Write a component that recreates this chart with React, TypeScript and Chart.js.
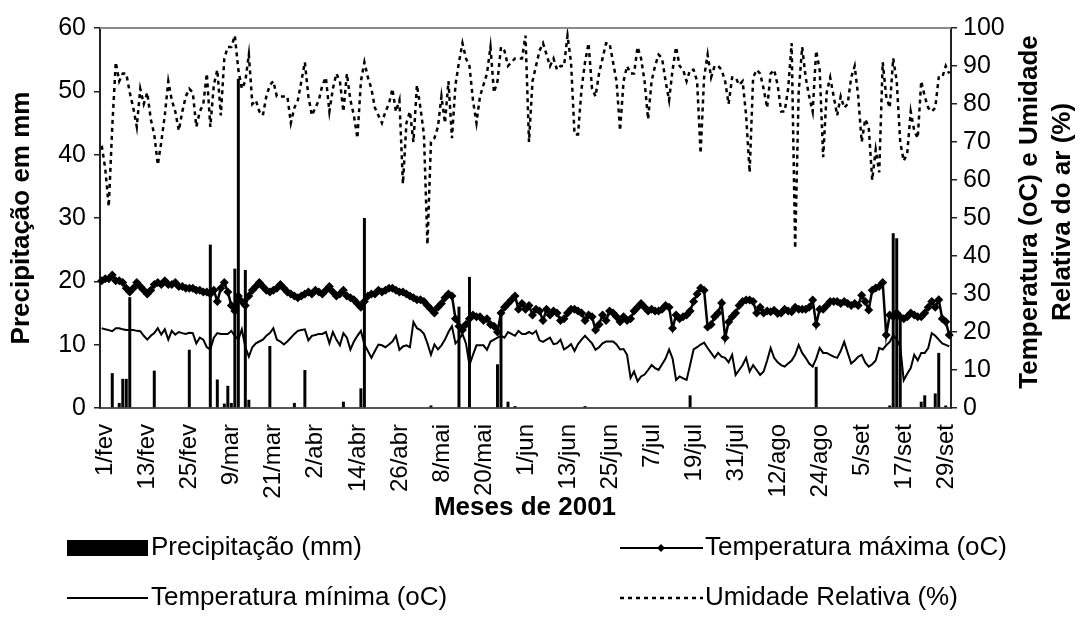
import React, { useEffect, useRef } from 'react';
import { Chart, registerables } from 'chart.js';

Chart.register(...registerables);

const FONT = '"Liberation Sans", Arial, Helvetica, sans-serif';

// Daily categories: 1/fev .. 1/out (2001)
const MONTHS = ['fev', 'mar', 'abr', 'mai', 'jun', 'jul', 'ago', 'set', 'out'];
const MONTH_DAYS = [28, 31, 30, 31, 30, 31, 31, 30, 1];
const CATEGORIES: string[] = [];
MONTHS.forEach((m, k) => {
  for (let d = 1; d <= MONTH_DAYS[k]; d++) CATEGORIES.push(`${d}/${m}`);
});

const TICK_LABELS = [
  '1/fev', '13/fev', '25/fev', '9/mar', '21/mar', '2/abr', '14/abr', '26/abr', '8/mai', '20/mai',
  '1/jun', '13/jun', '25/jun', '7/jul', '19/jul', '31/jul', '12/ago', '24/ago', '5/set', '17/set', '29/set',
];
const TICK_STEP = 12;

// Precipitação (mm) - left axis
const PRECIP = [
  0, 0, 0, 5.5, 0, 0.8, 4.6, 4.6, 17.5, 0,
  0, 0, 0, 0, 0, 5.9, 0, 0, 0, 0,
  0, 0, 0, 0, 0, 9.2, 0, 0, 0, 0,
  0, 25.8, 0, 4.5, 0, 0.7, 3.5, 0.8, 22, 52,
  0, 21.8, 1.3, 0, 0, 0, 0, 0, 9.8, 0,
  0, 0, 0, 0, 0, 0.8, 0, 0, 6, 0,
  0, 0, 0, 0, 0, 0, 0, 0, 0, 1,
  0, 0, 0, 0, 3.1, 30, 0, 0, 0, 0,
  0, 0, 0, 0, 0, 0, 0, 0, 0, 0,
  0, 0, 0, 0, 0.4, 0, 0, 0, 0, 0,
  0, 0, 16, 0, 0, 20.7, 0, 0, 0, 0,
  0, 0, 0, 6.9, 15.2, 0, 1, 0, 0.3, 0,
  0, 0, 0, 0, 0, 0, 0, 0, 0, 0,
  0, 0, 0, 0, 0, 0, 0, 0, 0.3, 0,
  0, 0, 0, 0, 0, 0, 0, 0, 0, 0,
  0, 0, 0, 0, 0, 0, 0, 0, 0, 0,
  0, 0, 0, 0, 0, 0, 0, 0, 2, 0,
  0, 0, 0, 0, 0, 0, 0, 0, 0, 0,
  0, 0, 0, 0, 0, 0, 0, 0, 0, 0,
  0, 0, 0, 0, 0, 0, 0, 0, 0, 0,
  0, 0, 0, 0, 6.5, 0, 0, 0, 0, 0,
  0, 0, 0, 0, 0, 0, 0, 0, 0, 0,
  0, 0, 0, 0, 0, 0.4, 27.6, 26.8, 14.5, 0,
  0, 0, 0, 0, 1, 2, 0, 0, 2.3, 8.7,
  0, 0.4, 0,
];

// Temperatura máxima (oC) - right axis
const TMAX = [
  33.5, 34, 34, 35, 33.5, 33.5, 33, 31.5, 30.5, 31.5,
  33, 32, 31, 30, 31, 32.5, 33, 32.5, 33.5, 32.5,
  32.5, 33, 32, 32, 31.5, 31.5, 31.5, 31, 31, 30.5,
  30.5, 30, 31, 28, 31.5, 33, 30.5, 27, 25.5, 29.5,
  28, 27, 29.5, 31, 32, 33, 32, 31, 30.5, 31,
  31.5, 32.5, 31.5, 30.5, 30, 29.5, 29, 29.5, 30, 30.5,
  30, 31, 30.5, 30, 31, 32, 30.5, 29.5, 30, 31,
  29.5, 29, 28.5, 27.5, 26.5, 28, 29.5, 30, 30, 31,
  30.5, 31, 31.5, 31.5, 31, 30.5, 30.5, 30, 29.5, 29,
  28.5, 28.5, 28, 27, 26, 25, 26.5, 27.5, 29, 30,
  29.5, 23.5, 21.5, 20.5, 22, 23.5, 24.5, 24, 24, 23,
  23.5, 22, 21.5, 20, 25, 26.5, 27.5, 28.5, 29.5, 26,
  27.5, 26, 27, 24.5, 26, 25.5, 23, 26, 24.5, 25.5,
  25, 23, 23.5, 25, 26, 26, 25.5, 25, 23, 24.5,
  24, 20.5, 22, 24.5, 23, 25.5, 25, 24, 22.7, 24,
  23, 23.5, 25.5, 26.5, 27.5, 26.5, 25.5, 26, 25.5, 25.5,
  26, 27, 26.5, 21, 24.5, 23.5, 24, 24.5, 25.5, 28,
  30, 31.6, 31, 21.3, 22, 24, 25, 27.6, 18.5, 22.6,
  24, 25, 27, 28, 28.4, 28.4, 28, 25, 26.5, 25,
  25.5, 25.3, 25.7, 24.9, 25, 26, 25.5, 25.3, 26.5, 26,
  26, 26, 26.5, 28.4, 22, 26, 26, 27, 28, 28,
  28, 27.5, 28, 27.5, 27, 27.5, 27, 29.7, 28, 25.8,
  31, 31.6, 32, 33, 19.2, 24.5, 24, 25, 24, 23.5,
  24, 25, 24.5, 24, 24, 25, 26.5, 28, 26.5, 28.5,
  23.5, 22.7, 19.2,
];

// Temperatura mínima (oC) - right axis
const TMIN = [
  21, 20.7, 20.5, 20.2, 21, 21, 20.7, 20.5, 20.5, 20.5,
  20.3, 20.2, 19, 18, 19, 19.7, 21, 19.3, 20.7, 18,
  20.3, 19.3, 20, 19.7, 19.5, 19.8, 19.7, 17, 18.5, 18,
  16, 15.4, 18.5, 19.7, 19.5, 19.5, 19.5, 20.3, 19, 18,
  20.7, 16, 13.5, 16, 17, 17.5, 18, 19, 19.7, 21,
  18, 17.5, 16.7, 17.5, 18.5, 19.5, 20.3, 20.5, 20.7, 17.8,
  19, 19.2, 19.5, 19.5, 20, 17, 20, 18, 16.5, 19.7,
  18.5, 15.4, 17.5, 19, 20.3, 16.7, 15, 13.2, 15, 16.7,
  16.5, 16, 16.7, 17.5, 19, 15.3, 16.2, 16.5, 16, 22.6,
  21, 20.5, 19.5, 17, 14, 16.7, 15.4, 16.5, 18, 20,
  21.5, 17, 18, 19.5, 17, 11.3, 14, 16.5, 16.5, 16.5,
  15.3, 17.5, 18, 18.5, 19, 18.5, 20, 19.5, 19, 20.3,
  19.5, 19.5, 20, 19.5, 20.3, 17.8, 17.4, 18, 18.5, 16.8,
  17, 18, 15.4, 16, 16.8, 15, 16.8, 18, 19, 18,
  17, 15.3, 16, 17, 17.5, 17.5, 17.5, 16.7, 15.4, 15.5,
  14, 7.9, 9.6, 7, 8.3, 8.8, 10, 11.3, 10.5, 10,
  11.5, 13, 15.4, 13, 7.4, 8.3, 7.8, 7.4, 11.3, 15.4,
  16, 16.7, 17.2, 15.8, 14.5, 13.2, 14.5, 13.5, 13.2, 12,
  14, 8.7, 10, 11.3, 13.2, 9.6, 11.3, 10, 8.7, 9.6,
  12.5, 15.8, 13.2, 12, 11.3, 10.9, 11.7, 12.5, 14, 16.6,
  14.5, 13.2, 11.7, 10.9, 13, 15.8, 14.5, 14.5, 14, 13.5,
  13.2, 15, 17.4, 14.5, 11.7, 12.5, 13.5, 14, 12, 10.9,
  11.5, 12.5, 15.8, 15.4, 16.5, 17.4, 19.2, 18, 16.2, 7.3,
  9, 10.5, 14, 12.5, 14.5, 14.5, 15.8, 19.7, 19, 18,
  17, 16.6, 16.2,
];

// Umidade Relativa (%) - right axis
const UMIDADE = [
  69, 63, 53, 74, 91, 86, 88, 88, 83, 79,
  74, 84, 80, 83, 76, 72, 64, 70, 77, 86,
  81, 78, 73, 78, 82, 84, 83, 74, 78, 80,
  88, 74, 85, 89, 77, 92, 95, 95, 98, 89,
  84, 86, 93, 80, 81, 78, 77, 82, 85, 86,
  82, 82, 82, 82, 75, 79, 81, 86, 91, 82,
  77, 79, 81, 85, 87, 78, 84, 88, 86, 78,
  88, 81, 77, 71, 86, 91, 87, 84, 79, 77,
  75, 78, 80, 84, 78, 81, 59, 75, 78, 70,
  85, 79, 72, 43, 70, 71, 74, 82, 75, 86,
  71, 85, 91, 96, 92, 90, 81, 75, 82, 85,
  88, 95, 83, 86, 95, 94, 90, 91, 92, 92,
  92, 98, 70, 86, 90, 94, 96, 93, 90, 92,
  89, 90, 90, 98, 91, 72, 72, 84, 91, 96,
  84, 82, 88, 92, 96, 96, 91, 86, 73, 86,
  90, 88, 88, 95, 92, 86, 76, 86, 90, 93,
  92, 86, 81, 89, 95, 90, 89, 86, 89, 89,
  86, 67, 87, 93, 87, 90, 90, 89, 86, 80,
  87, 87, 85, 86, 77, 62, 87, 89, 88, 84,
  79, 88, 89, 85, 78, 78, 84, 96, 42, 83,
  95, 87, 82, 78, 94, 89, 66, 83, 87, 82,
  77, 82, 79, 80, 87, 90, 82, 70, 76, 74,
  60, 68, 62, 91, 82, 79, 92, 86, 70, 65,
  67, 78, 73, 71, 86, 82, 79, 78, 79, 87,
  87, 90, 88,
];

const decorations = {
  id: 'decorations',
  afterDraw(chart: any) {
    const { ctx, chartArea } = chart;
    ctx.save();
    // top frame line
    ctx.strokeStyle = '#8a8a8a';
    ctx.lineWidth = 2;
    ctx.beginPath();
    ctx.moveTo(chartArea.left, chartArea.top);
    ctx.lineTo(chartArea.right, chartArea.top);
    ctx.stroke();

    ctx.fillStyle = '#000';
    ctx.textAlign = 'center';
    ctx.textBaseline = 'middle';
    ctx.font = `bold 26px ${FONT}`;
    // left title
    ctx.save();
    ctx.translate(22, 218);
    ctx.rotate(-Math.PI / 2);
    ctx.fillText('Precipitação em mm', 0, 0);
    ctx.restore();
    // right title
    ctx.save();
    ctx.translate(1030, 212);
    ctx.rotate(-Math.PI / 2);
    ctx.fillText('Temperatura (oC) e Umidade', 0, 0);
    ctx.restore();
    ctx.save();
    ctx.translate(1063, 212);
    ctx.rotate(-Math.PI / 2);
    ctx.fillText('Relativa do ar (%)', 0, 0);
    ctx.restore();
    // x title
    ctx.fillText('Meses de 2001', 525, 508);

    // legend
    ctx.textAlign = 'left';
    ctx.font = `26px ${FONT}`;
    const r1 = 548;
    const r2 = 598;
    ctx.fillRect(67, 540, 81, 16);
    ctx.fillText('Precipitação (mm)', 151, r1);

    ctx.strokeStyle = '#000';
    ctx.lineWidth = 2;
    ctx.beginPath();
    ctx.moveTo(620, r1);
    ctx.lineTo(703, r1);
    ctx.stroke();
    ctx.beginPath();
    ctx.moveTo(661, r1 - 4);
    ctx.lineTo(665, r1);
    ctx.lineTo(661, r1 + 4);
    ctx.lineTo(657, r1);
    ctx.closePath();
    ctx.fill();
    ctx.fillText('Temperatura máxima (oC)', 705, r1);

    ctx.beginPath();
    ctx.moveTo(67, r2);
    ctx.lineTo(148, r2);
    ctx.stroke();
    ctx.fillText('Temperatura mínima (oC)', 151, r2);

    ctx.lineWidth = 2.5;
    ctx.setLineDash([4, 4]);
    ctx.beginPath();
    ctx.moveTo(620, r2);
    ctx.lineTo(703, r2);
    ctx.stroke();
    ctx.setLineDash([]);
    ctx.fillText('Umidade Relativa (%)', 705, r2);
    ctx.restore();
  },
};

export default function App() {
  const canvasRef = useRef<HTMLCanvasElement | null>(null);

  useEffect(() => {
    document.body.style.margin = '0';
    const canvas = canvasRef.current;
    if (!canvas) return;
    const chart = new Chart(canvas, {
      type: 'bar',
      data: {
        labels: CATEGORIES,
        datasets: [
          {
            type: 'line',
            label: 'Temperatura máxima (oC)',
            data: TMAX,
            yAxisID: 'y1',
            borderColor: '#000',
            backgroundColor: '#000',
            borderWidth: 2.5,
            pointStyle: 'rectRot',
            pointRadius: 4.5,
            pointBackgroundColor: '#000',
            pointBorderColor: '#000',
            pointBorderWidth: 0,
            tension: 0,
            order: 1,
          } as any,
          {
            type: 'line',
            label: 'Temperatura mínima (oC)',
            data: TMIN,
            yAxisID: 'y1',
            borderColor: '#000',
            borderWidth: 2,
            pointRadius: 0,
            tension: 0,
            order: 2,
          } as any,
          {
            type: 'line',
            label: 'Umidade Relativa (%)',
            data: UMIDADE,
            yAxisID: 'y1',
            borderColor: '#000',
            borderWidth: 2.5,
            borderDash: [4, 4],
            pointRadius: 0,
            tension: 0,
            order: 3,
          } as any,
          {
            type: 'bar',
            label: 'Precipitação (mm)',
            data: PRECIP,
            yAxisID: 'y',
            backgroundColor: '#000',
            borderWidth: 0,
            categoryPercentage: 0.85,
            barPercentage: 1,
            order: 4,
          } as any,
        ],
      },
      options: {
        responsive: false,
        animation: false,
        devicePixelRatio: 1,
        layout: { padding: { top: 28, left: 0, right: 0, bottom: 0 } },
        plugins: {
          legend: { display: false },
          title: { display: false },
          tooltip: { enabled: false },
        },
        scales: {
          x: {
            type: 'category',
            offset: true,
            grid: { display: false },
            border: { display: true, color: '#555', width: 2 },
            ticks: {
              autoSkip: false,
              minRotation: 90,
              maxRotation: 90,
              padding: 8,
              labelOffset: 4,
              color: '#000',
              font: { family: FONT, size: 24 },
              callback: (_v: any, index: number) =>
                index % TICK_STEP === 0 ? TICK_LABELS[index / TICK_STEP] ?? '' : '',
            },
            afterFit: (scale: any) => {
              scale.height = 233;
            },
          },
          y: {
            position: 'left',
            min: 0,
            max: 60,
            grid: { drawOnChartArea: false, drawTicks: true, tickLength: 6, color: '#222', lineWidth: 1.5 },
            border: { display: true, color: '#222', width: 2 },
            ticks: { stepSize: 10, padding: 8, color: '#000', font: { family: FONT, size: 25 } },
            afterFit: (scale: any) => {
              scale.width = 100;
            },
          },
          y1: {
            position: 'right',
            min: 0,
            max: 100,
            grid: { drawOnChartArea: false, drawTicks: true, tickLength: 6, color: '#222', lineWidth: 1.5 },
            border: { display: true, color: '#222', width: 2 },
            ticks: { stepSize: 10, padding: 6, color: '#000', font: { family: FONT, size: 25 } },
            afterFit: (scale: any) => {
              scale.width = 130;
            },
          },
        },
      } as any,
      plugins: [decorations],
    });
    return () => chart.destroy();
  }, []);

  return (
    <div style={{ position: 'absolute', left: 0, top: 0, width: 1081, height: 641, background: '#fff' }}>
      <canvas ref={canvasRef} width={1081} height={641} style={{ display: 'block', width: 1081, height: 641 }} />
    </div>
  );
}
